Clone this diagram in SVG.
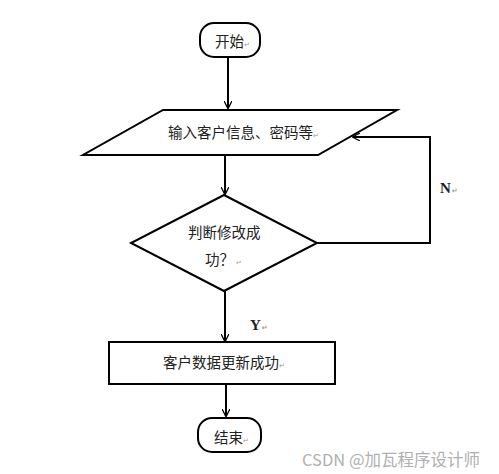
<svg xmlns="http://www.w3.org/2000/svg" width="499" height="474" viewBox="0 0 499 474">
<defs>
<marker id="arr" viewBox="0 0 10 10" refX="9" refY="5" markerWidth="8" markerHeight="8" markerUnits="userSpaceOnUse" orient="auto">
<path d="M0,0 L10,5 L0,10" fill="none" stroke="#000" stroke-width="1.6"/>
</marker>
<style>
.s{fill:#fff;stroke:#000;stroke-width:2}
.t{font-family:"Noto Sans CJK SC","Liberation Sans",sans-serif;font-size:14.5px;fill:#222}
.m{font-family:"DejaVu Sans",sans-serif;font-size:7px;fill:#999}
.l{font-family:"Liberation Serif",serif;font-size:15px;font-weight:bold;fill:#222}
.c{fill:none;stroke:#000;stroke-width:2}
</style>
</defs>
<rect width="499" height="474" fill="#fff"/>
<g id="connectors">
<line class="c" x1="228" y1="57" x2="228" y2="108" marker-end="url(#arr)"/>
<line class="c" x1="225" y1="155" x2="225" y2="194" marker-end="url(#arr)"/>
<polyline class="c" points="317,243 430,243 430,137 353,137" marker-end="url(#arr)"/>
<line class="c" x1="225" y1="291" x2="225" y2="341" marker-end="url(#arr)"/>
<line class="c" x1="226" y1="385" x2="226" y2="416" marker-end="url(#arr)"/>
<text class="l" x="440" y="193">N<tspan class="m" dx="1">↵</tspan></text>
<text class="l" x="250" y="330">Y<tspan class="m" dx="1">↵</tspan></text>
</g>
<g id="start">
<rect class="s" x="200" y="23" width="60" height="34" rx="14"/>
<text class="t" x="215" y="47">开始<tspan class="m">↵</tspan></text>
</g>
<g id="input">
<polygon class="s" points="163,110 397,110 318,155 83,155"/>
<text class="t" x="168" y="138">输入客户信息、密码等<tspan class="m">↵</tspan></text>
</g>
<g id="decision">
<polygon class="s" points="224,195 317,243 224,291 131,243"/>
<text class="t" x="188" y="238">判断修改成</text>
<text class="t" x="205" y="265">功？<tspan class="m" dx="2">↵</tspan></text>
</g>
<g id="update">
<rect class="s" x="109" y="342" width="226" height="42"/>
<text class="t" x="163" y="368">客户数据更新成功<tspan class="m">↵</tspan></text>
</g>
<g id="end">
<rect class="s" x="198" y="418" width="63" height="34" rx="14"/>
<text class="t" x="214" y="443">结束<tspan class="m">↵</tspan></text>
</g>
<text x="302" y="466" font-family="'Noto Sans CJK SC','Liberation Sans',sans-serif" font-size="16.5" fill="#b0b0b0">CSDN @加瓦程序设计师</text>
</svg>
